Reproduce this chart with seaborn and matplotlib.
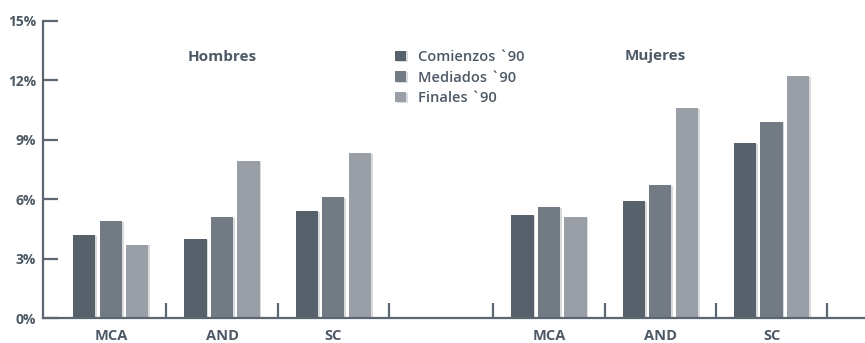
import numpy as np
import pandas as pd
import matplotlib
matplotlib.use("Agg")
import matplotlib.pyplot as plt
import matplotlib.patheffects as pe
from matplotlib.ticker import FixedLocator, FuncFormatter
import seaborn as sns

# Regions and periods
regions = ["MCA", "AND", "SC"]
periods = ["Comienzos `90", "Mediados `90", "Finales `90"]
panels = ["Hombres", "Mujeres"]

# Percentages per region for each period
hombres_comienzos = [4.2, 4.0, 5.4]
hombres_mediados = [4.9, 5.1, 6.1]
hombres_finales = [3.7, 7.9, 8.3]

mujeres_comienzos = [5.2, 5.9, 8.8]
mujeres_mediados = [5.6, 6.7, 9.9]
mujeres_finales = [5.1, 10.6, 12.2]

y_ticks = [0, 3, 6, 9, 12, 15]

# Horizontal placement of the two panels on one shared axis
panel_offset = {"Hombres": 0.0, "Mujeres": 3.94}

series = {
    ("Hombres", periods[0]): hombres_comienzos,
    ("Hombres", periods[1]): hombres_mediados,
    ("Hombres", periods[2]): hombres_finales,
    ("Mujeres", periods[0]): mujeres_comienzos,
    ("Mujeres", periods[1]): mujeres_mediados,
    ("Mujeres", periods[2]): mujeres_finales,
}
rows = []
for (panel, period), vals in series.items():
    for i, (reg, v) in enumerate(zip(regions, vals)):
        rows.append({"panel": panel, "region": reg, "period": period,
                     "pos": i + panel_offset[panel], "value": v})
df = pd.DataFrame(rows)

ink = "#4d5965"
axis_col = "#5b6671"
palette = {periods[0]: "#56616c", periods[1]: "#727a84", periods[2]: "#9a9ea6"}

sns.set_theme(style="white")
plt.rcParams["font.family"] = ["Open Sans", "DejaVu Sans"]

fig = plt.figure(figsize=(8.65, 3.43), dpi=100)
ax = fig.add_axes([43 / 865, 25 / 343, (865 - 43) / 865, (318 - 10) / 343])

sns.barplot(data=df, x="pos", y="value", hue="period", hue_order=periods,
            palette=palette, native_scale=True, width=0.715, gap=0.16,
            saturation=1, ax=ax, legend=True, errorbar=None)

for bar in ax.patches:
    bar.set_linewidth(0)
    bar.set_path_effects([pe.SimplePatchShadow(offset=(1.2, -0.6), shadow_rgbFace="#b9bcc0",
                                               alpha=0.55), pe.Normal()])

ax.set_xlim(-0.61, 6.78)
ax.set_ylim(0, 15.53)

# Axis lines
for s in ["top", "right"]:
    ax.spines[s].set_visible(False)
for s in ["left", "bottom"]:
    ax.spines[s].set_color(axis_col)
    ax.spines[s].set_linewidth(1.6)
ax.spines["left"].set_bounds(0, 15)

# Y ticks pointing inward
ax.set_yticks(y_ticks)
ax.yaxis.set_major_formatter(FuncFormatter(lambda v, _: f"{v:.0f}%"))
ax.tick_params(axis="y", direction="in", length=10.5, width=1.6, color=axis_col,
               pad=5, labelsize=10, labelcolor=ink, left=True)
for t in ax.get_yticklabels():
    t.set_fontweight("bold")

# Region labels and separators between groups
centers = [i + panel_offset[p] for p in panels for i in range(len(regions))]
ax.set_xticks(centers)
ax.set_xticklabels(regions * len(panels))
seps = [i + 0.5 for i in range(len(regions))] + \
       [i - 0.5 + panel_offset["Mujeres"] for i in range(len(regions) + 1)]
ax.xaxis.set_minor_locator(FixedLocator(seps))
ax.tick_params(axis="x", which="major", length=0, pad=8, labelsize=10.5, labelcolor=ink)
ax.tick_params(axis="x", which="minor", direction="in", length=11, width=1.6,
               color=axis_col, bottom=True)
for t in ax.get_xticklabels():
    t.set_fontweight("bold")
ax.set_xlabel("")
ax.set_ylabel("")

# Panel titles
ax.text(1.0, 13.15, panels[0], ha="center", va="center", fontsize=11,
        fontweight="bold", color=ink)
ax.text(1.0 + panel_offset["Mujeres"] - 0.05, 13.2, panels[1], ha="center", va="center",
        fontsize=11, fontweight="bold", color=ink)

# Legend
handles, labels = ax.get_legend_handles_labels()
leg = ax.legend(handles, labels, loc="upper left", bbox_to_anchor=(395 / 865, 1 - 50 / 343),
                bbox_transform=fig.transFigure, frameon=False, fontsize=10.5,
                handlelength=0.75, handleheight=0.75, handletextpad=0.8,
                labelspacing=0.45, borderpad=0, borderaxespad=0)
for t in leg.get_texts():
    t.set_color(ink)
    t.set_fontweight("semibold")

fig.savefig("out.png", dpi=100)
